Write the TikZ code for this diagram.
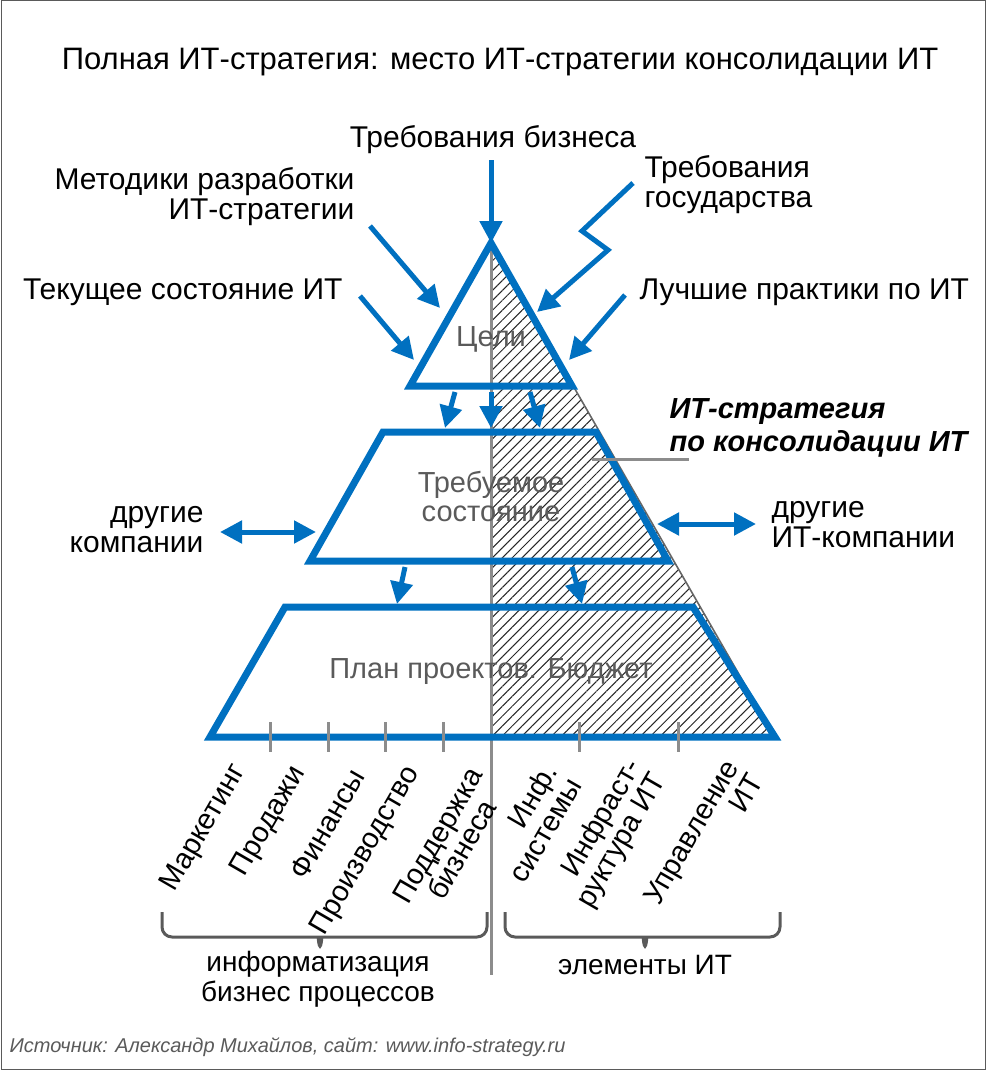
\documentclass[tikz,border=0pt]{standalone}
\usepackage{fontspec}
\setmainfont{Liberation Sans}
\usetikzlibrary{arrows.meta,patterns.meta}
\definecolor{pblue}{RGB}{0,112,192}
\definecolor{lgray}{RGB}{140,140,140}
\definecolor{dgray}{RGB}{90,90,90}
\tikzset{
  shp/.style={draw=pblue,line width=7pt,line join=miter},
  arr/.style={draw=pblue,line width=5pt,-{Triangle[length=22pt,width=22pt]}},
  darr/.style={draw=pblue,line width=5pt,{Triangle[length=22pt,width=22pt]}-{Triangle[length=22pt,width=22pt]}},
  lbl/.style={font=\fontsize{30}{30}\selectfont,align=center},
  inl/.style={font=\fontsize{29}{29}\selectfont,text=dgray,align=center},
  rot/.style={font=\fontsize{29}{28}\selectfont,rotate=60,anchor=east,inner sep=1pt},
  grayln/.style={draw=lgray,line width=3pt},
  brc/.style={draw=dgray,line width=3pt,rounded corners=10pt}
}
\begin{document}
\begin{tikzpicture}[x=1pt,y=-1pt]
\useasboundingbox (0,0) rectangle (986,1070);
\draw[dgray,line width=1pt] (1,1) rectangle (985,1069);
% hatch
\fill[pattern={Lines[angle=45,distance=7pt,line width=1pt]},pattern color=black!85] (491,243) -- (775,737) -- (491,737) -- cycle;
\draw[black!60,line width=1.6pt] (491,243) -- (775,737);
% gray vertical line
\draw[grayln] (491,243) -- (491,975);
% shapes
\coordinate (A) at (491,243);
\draw[shp] (A) -- (572,386) -- (410,386) -- cycle;
\draw[shp] (383,432) -- (596,432) -- (668,561) -- (310,561) -- cycle;
\draw[shp] (285,607) -- (693,607) -- (775,737) -- (210,737) -- cycle;
% ticks
\foreach \x in {270,328,385,443,579,678} \draw[grayln] (\x,722) -- (\x,752);
% inner labels
\node[inl] (goals) at (491,339) {Цели};
\node[inl] (req) at (491,497) {Требуемое\\состояние};
\node[inl] (plan) at (491,672) {План проектов. Бюджет};
% arrows between layers
\coordinate (t1) at (455,392); \coordinate (t1e) at (445,428);
\coordinate (t2) at (491,392); \coordinate (t2e) at (491,428);
\coordinate (t3) at (530,392); \coordinate (t3e) at (540,428);
\draw[arr] (t1) -- (t1e); \draw[arr] (t2) -- (t2e); \draw[arr] (t3) -- (t3e);
\coordinate (u1) at (405,567); \coordinate (u1e) at (397,604);
\coordinate (u2) at (572,567); \coordinate (u2e) at (582,604);
\draw[arr] (u1) -- (u1e); \draw[arr] (u2) -- (u2e);
% title
\node[font=\fontsize{31}{31}\selectfont] (title) at (500,62) {Полная ИТ-стратегия: место ИТ-стратегии консолидации ИТ};
% inputs
\node[lbl] (biz) at (493,140) {Требования бизнеса};
\draw[arr] (491,160) -- (A);
\node[lbl,align=right,anchor=east] (met) at (358,197) {Методики разработки\\ИТ-стратегии};
\coordinate (met1) at (370,226); \coordinate (met2) at (440,308);
\draw[arr] (met1) -- (met2);
\node[lbl,anchor=east] (cur) at (346,292) {Текущее состояние ИТ};
\coordinate (cur1) at (360,296); \coordinate (cur2) at (414,360);
\draw[arr] (cur1) -- (cur2);
\node[lbl,align=left,anchor=west] (gov) at (641,185) {Требования\\государства};
\coordinate (g1) at (633,183); \coordinate (g2) at (582,231); \coordinate (g3) at (608,250); \coordinate (g4) at (537,312);
\draw[arr,line join=miter] (g1) -- (g2) -- (g3) -- (g4);
\node[lbl,anchor=west] (best) at (636,292) {Лучшие практики по ИТ};
\coordinate (b1) at (625,295); \coordinate (b2) at (569,360);
\draw[arr] (b1) -- (b2);
% strategy label
\node[font=\bfseries\itshape\fontsize{29}{33}\selectfont,align=left,anchor=west] (strat) at (666,428) {ИТ-стратегия\\по консолидации ИТ};
\coordinate (pt) at (592,459);
\draw[grayln] (pt) -- (689,459);
% side
\node[lbl,align=right,anchor=east] (oth) at (207,530) {другие\\компании};
\coordinate (o1) at (220,532); \coordinate (o2) at (316,532);
\draw[darr] (o1) -- (o2);
\node[lbl,align=left,anchor=west] (othit) at (768,525) {другие\\ИТ-компании};
\coordinate (p1) at (657,524); \coordinate (p2) at (756,524);
\draw[darr] (p1) -- (p2);
% bottom rotated labels
\node[rot] (l1) at (240,766) {Маркетинг};
\node[rot] (l2) at (300,768) {Продажи};
\node[rot] (l3) at (358,770) {Финансы};
\node[rot] (l4) at (414,768) {Производство};
\node[rot,align=center] (l5) at (488,776) {Поддержка\\бизнеса};
\node[rot,align=right] (l6) at (562,772) {Инф.\\системы};
\node[rot,align=right] (l7) at (648,768) {Инфраст-\\руктура ИТ};
\node[rot,align=right] (l8) at (744,768) {Управление\\ИТ};
% braces
\draw[brc] (162,912) |- (310,937) .. controls (318,937) .. (320,952) .. controls (322,937) .. (330,937) -| (487,912);
\draw[brc] (505,912) |- (635,937) .. controls (643,937) .. (645,952) .. controls (647,937) .. (655,937) -| (780,912);
\node[lbl,font=\fontsize{28}{30}\selectfont] (inf) at (318,979) {информатизация\\бизнес процессов};
\node[lbl,font=\fontsize{28}{30}\selectfont] (el) at (645,965) {элементы ИТ};
\node[font=\itshape\fontsize{20}{22}\selectfont,text=dgray,anchor=west] (src) at (6,1047) {Источник: Александр Михайлов, сайт: www.info-strategy.ru};
\end{tikzpicture}
\end{document}
